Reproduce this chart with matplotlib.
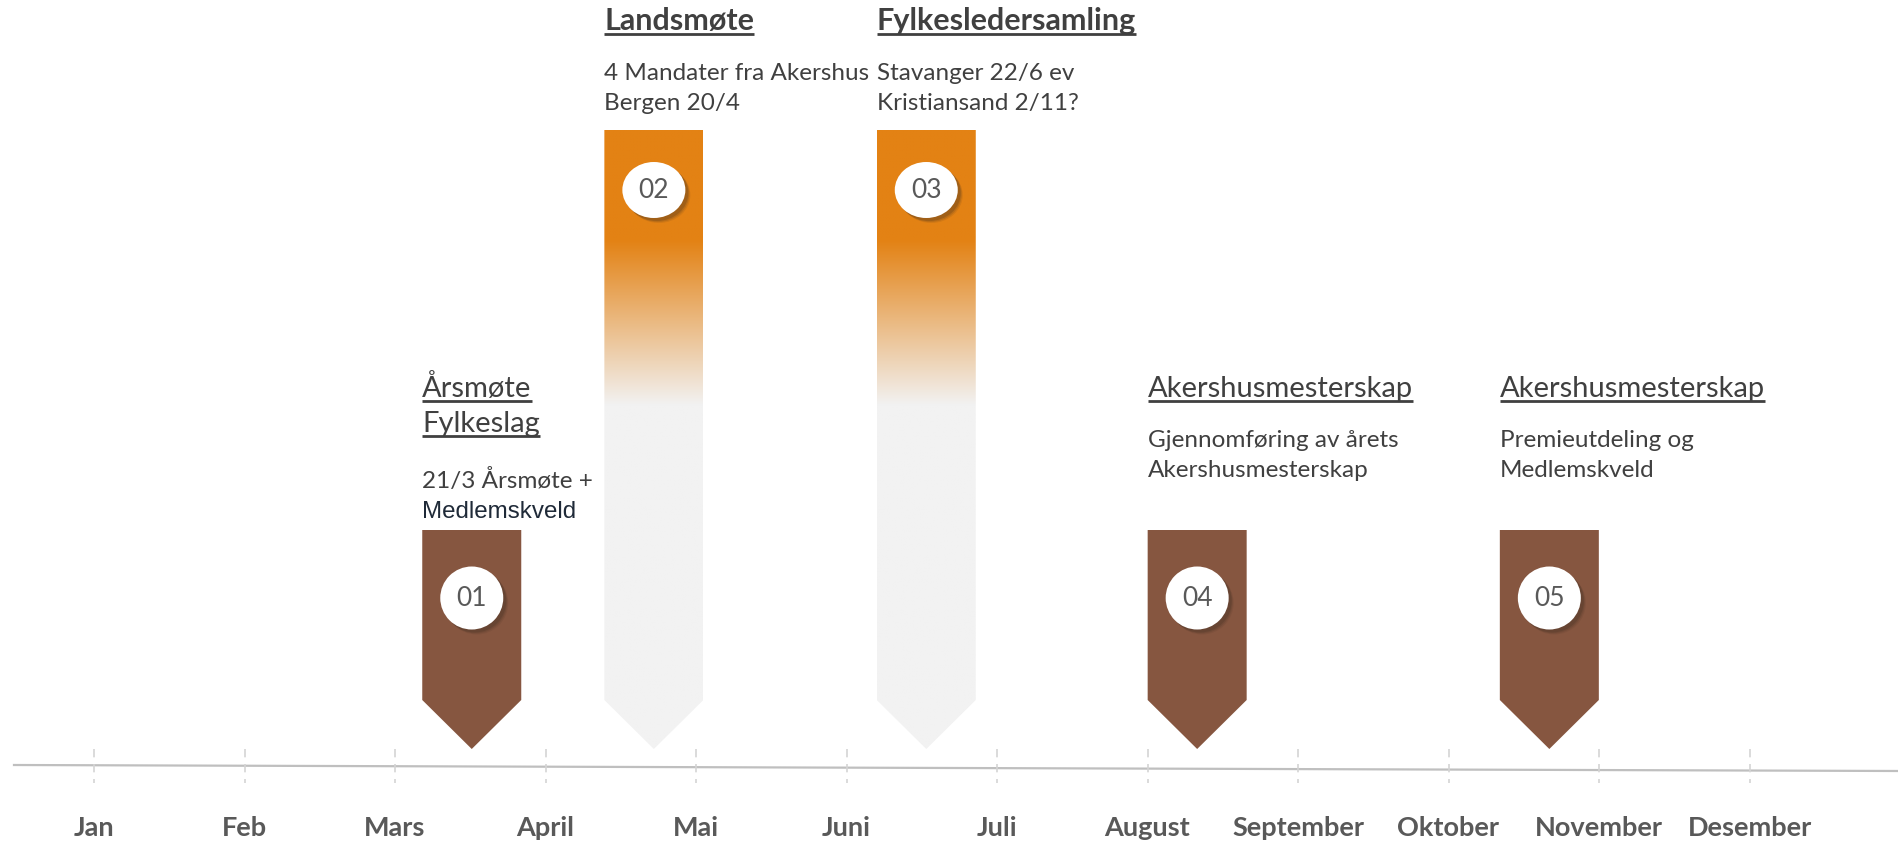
import numpy as np
import matplotlib
matplotlib.use('Agg')
import matplotlib.pyplot as plt
from matplotlib.patches import Polygon, Ellipse
from matplotlib.colors import to_rgb

# --- data ---
months = ['Jan', 'Feb', 'Mars', 'April', 'Mai', 'Juni', 'Juli', 'August',
          'September', 'Oktober', 'November', 'Desember']
event_nums = ['01', '02', '03', '04', '05']
event_pos = [2.51, 3.72, 5.53, 7.33, 9.67]          # arrow centre, in months from Jan
event_tall = [False, True, True, False, False]
titles = [['Årsmøte', 'Fylkeslag'], ['Landsmøte'], ['Fylkesledersamling'],
          ['Akershusmesterskap'], ['Akershusmesterskap']]
title_bold = [False, True, True, False, False]
descs = [['21/3 Årsmøte +', 'Medlemskveld'],
         ['4 Mandater fra Akershus', 'Bergen 20/4'],
         ['Stavanger 22/6 ev', 'Kristiansand 2/11?'],
         ['Gjennomføring av årets', 'Akershusmesterskap'],
         ['Premieutdeling og', 'Medlemskveld']]

# --- style ---
BROWN = '#865640'
ORANGE = '#E38214'
LIGHT = '#F2F2F2'
TXT = '#404040'
MONTH_C = '#595959'
FONT = 'Lato'

fig = plt.figure(figsize=(18.98, 8.43), dpi=100)
ax = fig.add_axes([0, 0, 1, 1])
ax.axis('off')
PX = 150.5                      # pixels per month
x_lo, x_hi = -94 / PX, (1898 - 94) / PX
ax.set_xlim(x_lo, x_hi)
ax.set_ylim(-77, 766)           # y in pixels above the time line

# time line and month ticks
ax.plot([14 / PX + x_lo, x_hi], [1, -5], color='#BFBFBF', lw=1.6, zorder=1)
for i, m in enumerate(months):
    ax.plot([i, i], [17, -17], color='#D4D4D4', lw=1.2, dashes=(5, 4), zorder=1)
    ax.text(i, -62, m, ha='center', va='center', fontsize=19.5, fontweight='bold',
            color=MONTH_C, family=FONT)

half = 49.5 / PX
tip, shoulder = 17, 66
fade_lo, fade_hi = 361, 526
underlines = []

for k in range(len(event_nums)):
    xc = event_pos[k]
    x0, x1 = xc - half, xc + half
    top = 636 if event_tall[k] else 236
    pts = [(x0, top), (x1, top), (x1, shoulder), (xc, tip), (x0, shoulder)]
    if event_tall[k]:
        poly = Polygon(pts, closed=True, facecolor='none', edgecolor='none')
        ax.add_patch(poly)
        ys = np.linspace(tip, top, 400)
        t = np.clip((ys - fade_lo) / (fade_hi - fade_lo), 0, 1)[:, None]
        grad = (1 - t) * np.array(to_rgb(LIGHT)) + t * np.array(to_rgb(ORANGE))
        img = ax.imshow(np.repeat(grad[:, None, :], 2, axis=1), extent=[x0, x1, tip, top],
                        origin='lower', aspect='auto', zorder=2, interpolation='bilinear')
        img.set_clip_path(poly)
        cy, eh = 576, 56
    else:
        ax.add_patch(Polygon(pts, closed=True, facecolor=BROWN, edgecolor='none', zorder=2))
        cy, eh = 168, 63
    ew = 63 / PX
    # soft shadow
    for d, a in [(5, 0.10), (4, 0.15), (3, 0.2)]:
        ax.add_patch(Ellipse((xc + d / PX, cy - d), ew, eh, facecolor='#3a2a20',
                             edgecolor='none', alpha=a, zorder=3))
    ax.add_patch(Ellipse((xc, cy), ew, eh, facecolor='white', edgecolor='none', zorder=4))
    ax.text(xc, cy, event_nums[k], ha='center', va='center', fontsize=19,
            color=MONTH_C, family=FONT, zorder=5)

    # texts
    ty = 736 if event_tall[k] else 369
    for line in titles[k]:
        bold = title_bold[k]
        t = ax.text(x0, ty, line, ha='left', va='baseline', fontsize=22 if bold else 21,
                    fontweight='bold' if bold else 'normal', color=TXT, family=FONT)
        underlines.append((t, ty))
        ty -= 35
    dy = ty + 35 - 50 - 6 * (len(titles[k]) - 1)
    for j, line in enumerate(descs[k]):
        if k == 0 and j == 1:
            ax.text(x0, dy, line, ha='left', va='baseline', fontsize=17.4,
                    color='#1F2A38', family='Liberation Sans')
        else:
            ax.text(x0, dy, line, ha='left', va='baseline', fontsize=17.5,
                    color=TXT, family=FONT)
        dy -= 30

fig.canvas.draw()
r = fig.canvas.get_renderer()
inv = ax.transData.inverted()
for t, base in underlines:
    bb = t.get_window_extent(r)
    xa = inv.transform((bb.x0, 0))[0]
    xb = inv.transform((bb.x1, 0))[0]
    ax.plot([xa, xb], [base - 4, base - 4], color=TXT, lw=2, solid_capstyle='butt')

fig.savefig('out.png', dpi=100)
